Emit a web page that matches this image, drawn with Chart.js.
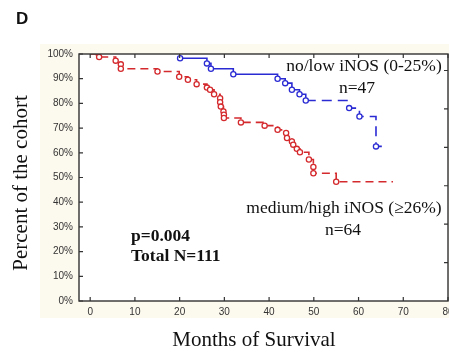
<!DOCTYPE html>
<html><head><meta charset="utf-8">
<script src="https://cdn.jsdelivr.net/npm/chart.js@4.4.1/dist/chart.umd.min.js"></script>
<style>html,body{margin:0;padding:0;background:#fff;overflow:hidden;width:449px;height:352px}canvas{display:block}</style>
</head><body><canvas id="c" width="460" height="352"></canvas>
<script>
// ---- data ----
const yTickValues = [0,10,20,30,40,50,60,70,80,90,100];
const xTickValues = [0,10,20,30,40,50,60,70,80];
const rightTickValues = [1,2,3,4,5,6];

const lowMonths = [20.1, 26.1, 27.0, 32.0, 41.9, 43.6, 45.1, 46.8, 48.2, 57.9, 60.2, 63.9, 66.5];
const lowPct    = [98.3, 96.2, 94.0, 91.8, 90.0, 88.2, 85.5, 83.7, 81.2, 78.1, 74.7, 62.6, 62.6];

const highMonths = [0, 1.4, 2.0, 5.7, 6.85, 6.85, 15.05, 19.9, 21.85, 23.8, 26.1, 26.8, 27.7, 29.05, 29.05, 29.2, 29.8, 29.9, 29.9, 33.7, 39.0, 41.9, 43.8, 44.0, 45.1, 45.4, 46.2, 46.9, 48.9, 49.9, 49.9, 55.0, 67.7];
const highPct    = [100, 98.8, 98.8, 97.3, 95.8, 94.0, 92.9, 90.8, 89.6, 87.8, 86.4, 85.5, 83.7, 82.1, 80.5, 78.7, 76.7, 75.4, 74.1, 72.3, 71.0, 69.3, 68.0, 66.0, 64.6, 63.3, 61.6, 60.2, 57.3, 54.3, 51.7, 48.3, 48.3];

const panelLabel = 'D';
const yTitle = 'Percent of the cohort';
const xTitle = 'Months of Survival';
const lowLabel = ['no/low iNOS (0-25%)', 'n=47'];
const highLabel = ['medium/high iNOS (\u226526%)', 'n=64'];
const statsLabel = ['p=0.004', 'Total N=111'];

// ---- styles ----
const RED = '#d42a2e', BLUE = '#2b2bd4';
const SERIF = '"Liberation Serif", "Times New Roman", serif';
const SANS = '"Liberation Sans", Arial, sans-serif';

const decor = {
  id: 'decor',
  beforeDraw(chart) {
    const {ctx, chartArea: a} = chart;
    ctx.save();
    ctx.fillStyle = '#fcf9ee';
    ctx.fillRect(40, 44, chart.width - 40, 318 - 44);
    ctx.fillStyle = '#ffffff';
    ctx.fillRect(a.left, a.top, a.right - a.left, a.bottom - a.top);
    ctx.restore();
  },
  afterDatasetsDraw(chart) {
    const {ctx, chartArea: a, scales} = chart;
    ctx.save();
    ctx.strokeStyle = '#333';
    ctx.lineWidth = 1.4;
    ctx.strokeRect(a.left, a.top, a.right - a.left, a.bottom - a.top);
    ctx.lineWidth = 1.2;
    const L = 4;
    ctx.beginPath();
    xTickValues.forEach(v => {
      const px = scales.x.getPixelForValue(v);
      ctx.moveTo(px, a.bottom); ctx.lineTo(px, a.bottom - L);
      ctx.moveTo(px, a.top); ctx.lineTo(px, a.top + L);
    });
    yTickValues.forEach(v => {
      const py = scales.y.getPixelForValue(v);
      ctx.moveTo(a.left, py); ctx.lineTo(a.left + L, py);
    });
    rightTickValues.forEach(v => {
      const py = scales.y2.getPixelForValue(v);
      ctx.moveTo(a.right, py); ctx.lineTo(a.right - L, py);
    });
    ctx.stroke();
    ctx.restore();
  },
  afterDraw(chart) {
    const {ctx} = chart;
    ctx.save();
    ctx.fillStyle = '#111';
    ctx.textBaseline = 'alphabetic';
    ctx.font = 'bold 17px ' + SANS;
    ctx.textAlign = 'left';
    ctx.fillText(panelLabel, 16, 24);

    ctx.font = '21px ' + SERIF;
    ctx.textAlign = 'center';
    ctx.fillText(xTitle, 254, 346);
    ctx.save();
    ctx.translate(27, 183);
    ctx.rotate(-Math.PI / 2);
    ctx.fillText(yTitle, 0, 0);
    ctx.restore();

    ctx.font = '17.5px ' + SERIF;
    ctx.fillText(lowLabel[0], 364, 71);
    ctx.fillText(lowLabel[1], 357, 93);
    ctx.fillText(highLabel[0], 344, 213);
    ctx.fillText(highLabel[1], 343, 235);

    ctx.font = 'bold 17.5px ' + SERIF;
    ctx.textAlign = 'left';
    ctx.fillText(statsLabel[0], 131, 241);
    ctx.fillText(statsLabel[1], 131, 261);
    ctx.restore();
  }
};

const toPts = (xs, ys) => xs.map((x, i) => ({x, y: ys[i]}));

new Chart(document.getElementById('c'), {
  type: 'line',
  data: {
    datasets: [
      {
        label: 'no/low iNOS',
        data: toPts(lowMonths, lowPct),
        borderColor: BLUE, borderWidth: 1.6,
        stepped: true,
        pointStyle: 'circle',
        pointRadius: c => c.dataIndex === lowMonths.length - 1 ? 0 : 2.6,
        pointBorderWidth: 1.3, pointBorderColor: BLUE, pointBackgroundColor: '#fff',
        segment: { borderDash: c => c.p0.parsed.x >= 48 ? [10, 6] : [] },
        fill: false
      },
      {
        label: 'medium/high iNOS',
        data: toPts(highMonths, highPct),
        borderColor: RED, borderWidth: 1.6,
        stepped: true,
        borderDash: [8, 5],
        pointStyle: 'circle',
        pointRadius: c => (c.dataIndex < 2 || c.dataIndex === highMonths.length - 1) ? 0 : 2.6,
        pointBorderWidth: 1.3, pointBorderColor: RED, pointBackgroundColor: '#fff',
        fill: false
      }
    ]
  },
  options: {
    responsive: false,
    animation: false,
    layout: { padding: { left: 0, right: 12, top: 54, bottom: 0 } },
    plugins: { legend: { display: false }, tooltip: { enabled: false } },
    scales: {
      x: {
        type: 'linear', position: 'bottom', min: -2.5, max: 80,
        afterBuildTicks: s => { s.ticks = xTickValues.map(v => ({value: v})); },
        afterFit: s => { s.height = 51; },
        grid: { display: false, drawTicks: false }, border: { display: false },
        ticks: { padding: 5, color: '#333', autoSkip: false, maxRotation: 0, font: { family: SANS, size: 10 } }
      },
      y: {
        type: 'linear', position: 'left', min: 0, max: 100,
        afterBuildTicks: s => { s.ticks = yTickValues.map(v => ({value: v})); },
        afterFit: s => { s.width = 79; },
        grid: { display: false, drawTicks: false }, border: { display: false },
        ticks: { padding: 6, color: '#333', callback: v => v + '%', font: { family: SANS, size: 10 } }
      },
      y2: {
        type: 'linear', position: 'right', min: 0, max: 6.43, display: false
      }
    }
  },
  plugins: [decor]
});
</script>
</body></html>
